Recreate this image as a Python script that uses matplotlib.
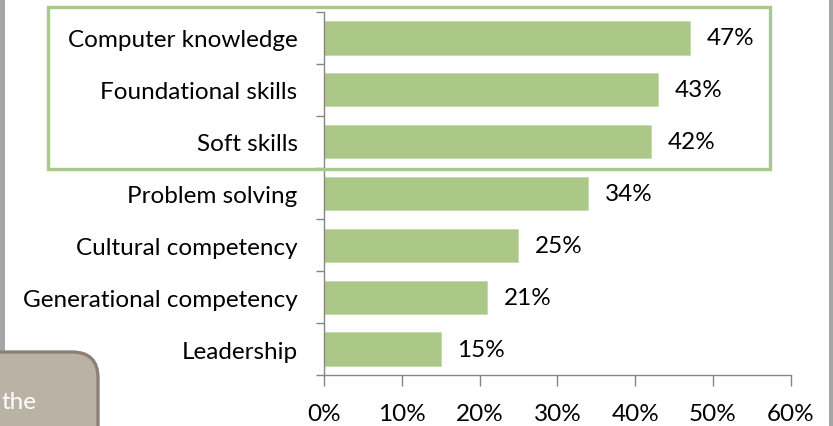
import matplotlib
matplotlib.use("Agg")
import matplotlib.pyplot as plt
from matplotlib.patches import FancyBboxPatch, Rectangle
from matplotlib.transforms import Affine2D

categories = ["Computer knowledge", "Foundational skills", "Soft skills",
              "Problem solving", "Cultural competency",
              "Generational competency", "Leadership"]
values = [47, 43, 42, 34, 25, 21, 15]
xticks = [0, 10, 20, 30, 40, 50, 60]
xtick_labels = ["0%", "10%", "20%", "30%", "40%", "50%", "60%"]

W, H = 833, 427
fig = plt.figure(figsize=(W / 100, H / 100), dpi=100)
plt.rcParams['font.family'] = ['Lato', 'DejaVu Sans']
FS = 17.5

# axes: x from 324 to 791, y from 13 to 376 (pixels)
x0, x1, y0, y1 = 324, 790.7, 13, 376
ax = fig.add_axes([x0 / W, 1 - y1 / H, (x1 - x0) / W, (y1 - y0) / H])
n = len(categories)
pos = list(range(n))
bar_color = "#ABC889"
ax.barh(pos, values, height=0.64, color=bar_color, edgecolor="#C5DAAE", linewidth=0.6, zorder=2)
ax.set_ylim(n - 0.5, -0.5)
ax.set_xlim(0, 60)
ax.set_xticks(xticks)
ax.set_xticklabels(xtick_labels, fontsize=FS)
ax.set_yticks(pos)
ax.set_yticklabels(categories, fontsize=FS)
ax.set_yticks([i - 0.5 for i in range(n + 1)], minor=True)
ax.tick_params(axis='y', which='major', length=0, pad=19)
ax.tick_params(axis='y', which='minor', length=6, color="#868686", width=1)
ax.tick_params(axis='x', which='major', length=8, color="#868686", width=1, pad=12)
for s in ["top", "right"]:
    ax.spines[s].set_visible(False)
for s in ["left", "bottom"]:
    ax.spines[s].set_color("#868686")
    ax.spines[s].set_linewidth(1)
ax.set_facecolor("none")

for p, v in zip(pos, values):
    ax.annotate(f"{v}%", xy=(v, p), xytext=(12, 0), textcoords="offset points",
                va="center", ha="left", fontsize=FS, color="black")

def fx(px):
    return px / W

def fy(py):
    return 1 - py / H

fig.patches.append(Rectangle((0, fy(353)), fx(5), fy(0) - fy(353),
                             transform=fig.transFigure, facecolor="#A6A6A6",
                             edgecolor="none", zorder=0))
fig.patches.append(Rectangle((fx(829), 0), fx(4), 1,
                             transform=fig.transFigure, facecolor="#A6A6A6",
                             edgecolor="none", zorder=0))
# green highlight rectangle
fig.patches.append(Rectangle((fx(48), fy(170)), fx(770) - fx(48), fy(8) - fy(170),
                             transform=fig.transFigure, facecolor="none",
                             edgecolor="#A9C98A", linewidth=2.4, zorder=5))
# callout box (clipped by figure edge)
box = FancyBboxPatch((-40, 353), 138, 120,
                     boxstyle="round,pad=0,rounding_size=26",
                     facecolor="#BBB2A6", edgecolor="#8C8178", linewidth=2.4, zorder=6)
box.set_transform(Affine2D().scale(1, -1).translate(0, H))
fig.patches.append(box)
fig.text(fx(1), fy(403), "the", color="white", fontsize=FS, va="center", ha="left", zorder=7)

fig.savefig("out.png", dpi=100)
